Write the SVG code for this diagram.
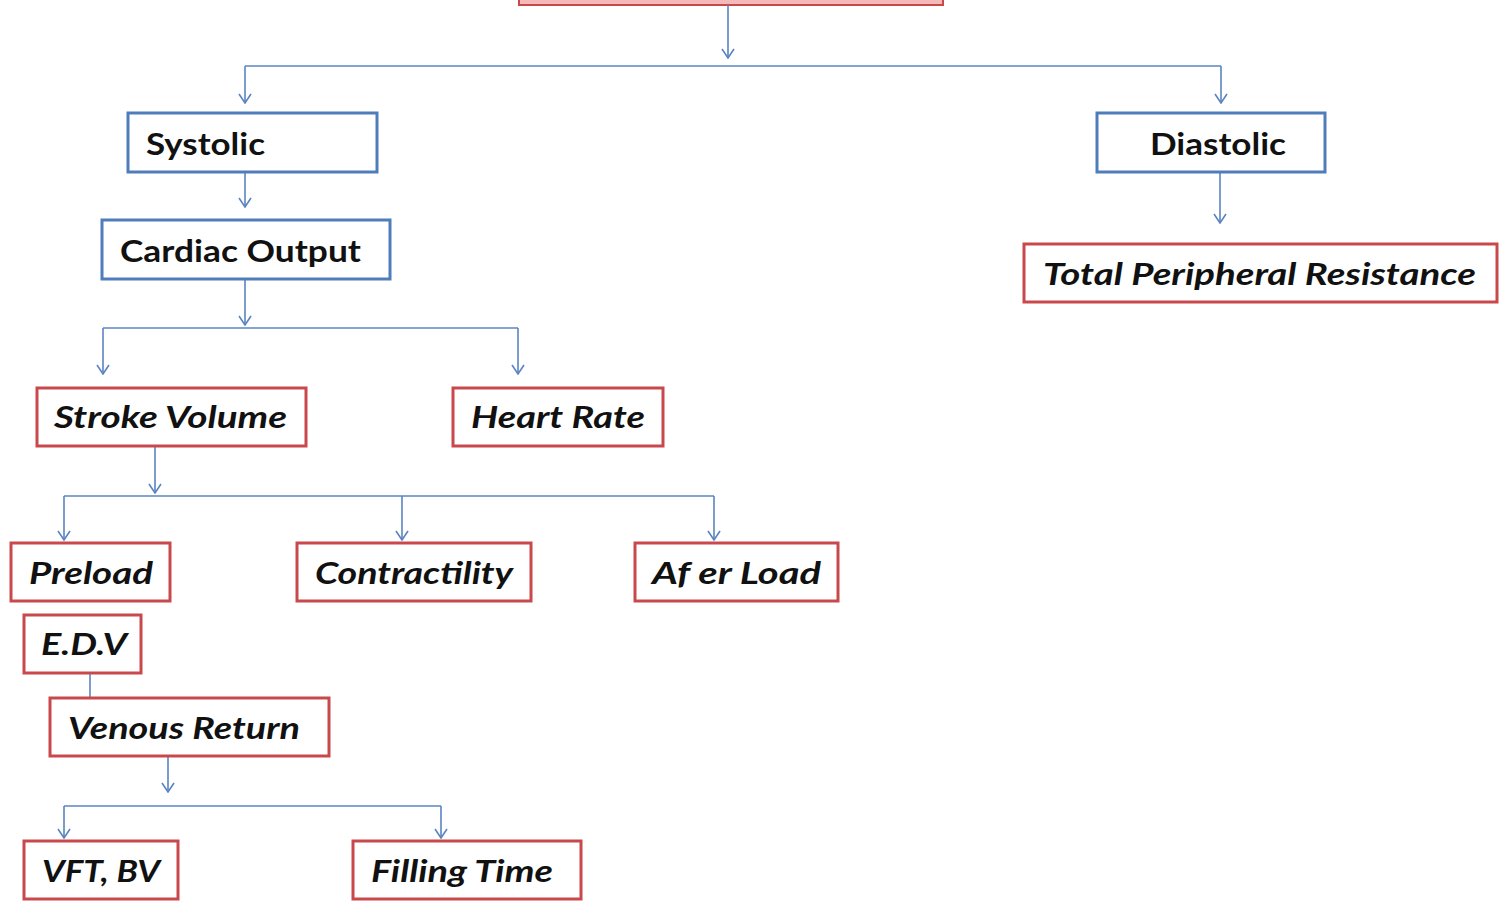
<svg xmlns="http://www.w3.org/2000/svg" width="1499" height="902" viewBox="0 0 1499 902">
<defs>
<marker id="ah" viewBox="0 0 12 14" refX="11" refY="7" markerWidth="12" markerHeight="14" markerUnits="userSpaceOnUse" orient="auto">
<path d="M2,1 L11,7 L2,13" fill="none" stroke="#5a84c0" stroke-width="1.6"/>
</marker>
<style>
.bb{fill:#fff;stroke:#4f7cba;stroke-width:3}
.rb{fill:#fff;stroke:#c9484b;stroke-width:3}
.t{font-family:Lato,"Open Sans","Liberation Sans",sans-serif;font-weight:bold;font-size:30px;fill:#111}
.i{font-style:italic}
.c{fill:none;stroke:#5a84c0;stroke-width:1.6}
.a{marker-end:url(#ah)}
</style>
</defs>
<rect width="1499" height="902" fill="#fff"/>
<g id="top"><rect x="519" y="-20" width="424" height="25" fill="#f4b9b9" stroke="#c9484b" stroke-width="2"/></g>
<g id="connectors">
<path class="c a" d="M728,5 V58"/>
<path class="c" d="M245,66 H1221"/>
<path class="c a" d="M245,66 V103"/>
<path class="c a" d="M1221,66 V103"/>
<path class="c a" d="M245,172 V207"/>
<path class="c a" d="M1220,172 V223"/>
<path class="c a" d="M245,279 V325"/>
<path class="c" d="M103,328 H518"/>
<path class="c a" d="M103,328 V374"/>
<path class="c a" d="M518,328 V374"/>
<path class="c a" d="M155,446 V493"/>
<path class="c" d="M64,496 H714"/>
<path class="c a" d="M64,496 V540"/>
<path class="c a" d="M402,496 V540"/>
<path class="c a" d="M714,496 V540"/>
<path class="c" d="M90,673 V698"/>
<path class="c a" d="M168,756 V792"/>
<path class="c" d="M64,806 H441"/>
<path class="c a" d="M64,806 V838"/>
<path class="c a" d="M441,806 V838"/>
</g>
<g id="systolic"><rect class="bb" x="128" y="113" width="249" height="59"/><text class="t" x="146" y="155" textLength="119" lengthAdjust="spacingAndGlyphs">Systolic</text></g>
<g id="cardiac-output"><rect class="bb" x="102" y="220" width="288" height="59"/><text class="t" x="120" y="262" textLength="241" lengthAdjust="spacingAndGlyphs">Cardiac Output</text></g>
<g id="diastolic"><rect class="bb" x="1097" y="113" width="228" height="59"/><text class="t" x="1150" y="155" textLength="136" lengthAdjust="spacingAndGlyphs">Diastolic</text></g>
<g id="tpr"><rect class="rb" x="1024" y="244" width="473" height="58"/><text class="t i" x="1043" y="285" textLength="433" lengthAdjust="spacingAndGlyphs">Total Peripheral Resistance</text></g>
<g id="stroke-volume"><rect class="rb" x="37" y="388" width="269" height="58"/><text class="t i" x="54" y="428" textLength="233" lengthAdjust="spacingAndGlyphs">Stroke Volume</text></g>
<g id="heart-rate"><rect class="rb" x="453" y="388" width="210" height="58"/><text class="t i" x="471" y="428" textLength="174" lengthAdjust="spacingAndGlyphs">Heart Rate</text></g>
<g id="preload"><rect class="rb" x="11" y="543" width="159" height="58"/><text class="t i" x="29" y="584" textLength="124" lengthAdjust="spacingAndGlyphs">Preload</text></g>
<g id="contractility"><rect class="rb" x="297" y="543" width="234" height="58"/><text class="t i" x="315" y="584" textLength="198" lengthAdjust="spacingAndGlyphs">Contractility</text></g>
<g id="afterload"><rect class="rb" x="635" y="543" width="203" height="58"/><text class="t i" x="652" y="584" textLength="169" lengthAdjust="spacingAndGlyphs">Af er Load</text></g>
<g id="edv"><rect class="rb" x="24" y="615" width="117" height="58"/><text class="t i" x="41" y="655" textLength="86" lengthAdjust="spacingAndGlyphs">E.D.V</text></g>
<g id="venous-return"><rect class="rb" x="50" y="698" width="279" height="58"/><text class="t i" x="68" y="739" textLength="232" lengthAdjust="spacingAndGlyphs">Venous Return</text></g>
<g id="vft-bv"><rect class="rb" x="24" y="841" width="154" height="58"/><text class="t i" x="42" y="882" textLength="118" lengthAdjust="spacingAndGlyphs">VFT, BV</text></g>
<g id="filling-time"><rect class="rb" x="353" y="841" width="228" height="58"/><text class="t i" x="371" y="882" textLength="182" lengthAdjust="spacingAndGlyphs">Filling Time</text></g>
</svg>
